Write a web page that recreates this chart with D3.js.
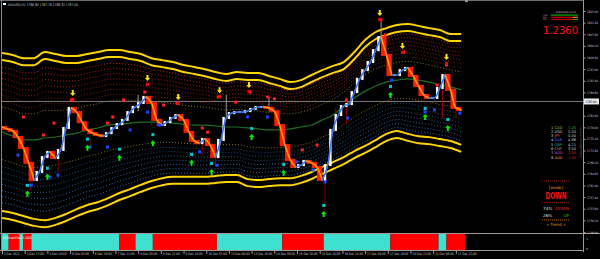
<!DOCTYPE html>
<html>
<head>
<meta charset="utf-8">
<script src="https://cdn.jsdelivr.net/npm/d3@7"></script>
<style>
  html, body { margin: 0; padding: 0; background: #000; }
  svg { display: block; }
  text { font-family: "DejaVu Sans", Tahoma, sans-serif; }
</style>
</head>
<body>
<svg id="chart" width="600" height="259"></svg>
<script>
// ---- data (XAUUSD H1) ----
const symbol = 'XAUUSD,H1';
const ohlcHeader = [1786.80, 1787.76, 1786.32, 1787.00];
const lastPrice = 1787.00;

// smoothed close, one value every 4 bars
const closes = [
  1779.1, 1778.5, 1777.9, 1776.0, 1772.6, 1768.0, 1762.7, 1765.2, 1769.8, 1771.4,
  1769.5, 1772.0, 1778.8, 1785.0, 1783.7, 1780.6, 1778.2, 1777.2, 1776.6, 1776.3,
  1777.2, 1778.8, 1780.0, 1781.3, 1783.7, 1785.3, 1786.5, 1788.4, 1786.5, 1781.3,
  1779.7, 1780.6, 1781.9, 1782.8, 1781.3, 1777.6, 1774.8, 1774.1, 1775.4, 1773.5,
  1769.8, 1775.1, 1781.9, 1783.4, 1783.7, 1783.7, 1784.0, 1784.7, 1785.3, 1785.3,
  1785.0, 1784.0, 1779.7, 1773.5, 1768.9, 1766.7, 1767.3, 1768.6, 1768.0, 1766.7,
  1762.7, 1767.3, 1778.2, 1782.8, 1785.6, 1786.2, 1789.9, 1794.0, 1796.7, 1799.2,
  1802.9, 1806.9, 1801.4, 1795.2, 1795.2, 1796.7, 1797.4, 1794.9, 1791.8, 1789.0,
  1788.1, 1788.1, 1791.2, 1795.2, 1790.6, 1785.0, 1784.4
];

// envelope lines, one value every 8 bars
const bandTop = [
  1802.0, 1801.4, 1800.4, 1800.4, 1802.3, 1801.7, 1801.1, 1801.1, 1801.7, 1802.3,
  1802.9, 1802.9, 1802.3, 1801.7, 1800.4, 1799.8, 1799.2, 1798.3, 1797.7, 1797.0,
  1796.1, 1795.5, 1796.1, 1795.8, 1795.8, 1794.9, 1794.0, 1793.0, 1793.6, 1795.2,
  1796.7, 1798.0, 1799.2, 1802.3, 1806.0, 1808.5, 1809.7, 1810.7, 1811.0, 1810.4,
  1809.7, 1809.1, 1807.9, 1807.9
];
const midLine = [
  1777.5, 1776.3, 1775.1, 1775.1, 1775.7, 1776.0, 1776.6, 1777.2, 1778.2, 1778.8,
  1779.7, 1780.0, 1780.3, 1780.6, 1780.6, 1780.6, 1780.3, 1780.0, 1779.7, 1779.7,
  1779.4, 1779.1, 1779.1, 1778.8, 1778.5, 1778.2, 1778.2, 1778.5, 1779.1, 1779.7,
  1781.3, 1782.8, 1785.6, 1788.1, 1790.2, 1791.8, 1793.0, 1793.6, 1794.0, 1793.6,
  1793.0, 1792.1, 1791.5, 1790.6
];
const bandBottom = [
  1750.9, 1750.3, 1749.4, 1748.5, 1748.1, 1748.8, 1750.0, 1751.5, 1752.8, 1753.7,
  1755.0, 1756.5, 1757.7, 1759.0, 1760.2, 1761.1, 1761.5, 1761.5, 1761.5, 1761.5,
  1761.8, 1762.1, 1762.1, 1760.8, 1760.5, 1760.8, 1761.1, 1761.1, 1761.8, 1763.0,
  1764.6, 1766.1, 1767.6, 1769.5, 1771.1, 1772.9, 1774.8, 1775.7, 1774.8, 1774.1,
  1773.8, 1773.2, 1772.6, 1771.4
];
const upperLevels = [0.82, 0.75, 0.68, 0.61, 0.54, 0.47, 0.40];
const lowerLevels = [0.82, 0.75, 0.68, 0.61, 0.54, 0.47, 0.40];
const middleLevel = 0.32;

// [bar, high, low]
const wicks = [
  [21, 1770.0, 1759.6], [42, 1771.0, 1765.1], [66, 1776.0, 1772.0], [102, 1789.0, 1784.0],
  [112, 1784.0, 1779.7], [150, 1775.0, 1770.4], [160, 1772.0, 1767.3], [168, 1789.0, 1782.0],
  [200, 1788.4, 1784.0], [211, 1770.0, 1765.8], [242, 1765.0, 1752.9], [250, 1785.0, 1779.7],
  [258, 1788.0, 1780.0], [284, 1811.6, 1805.0], [330, 1792.0, 1781.9], [340, 1788.0, 1781.9]
];
const grayWickBars = [102, 168, 200, 284];

// [bar, price]
const sellSignals = [[53, 1789.6], [109, 1794.3], [132, 1788.4], [163, 1790.5], [185, 1792.1],
  [283, 1814.4], [300, 1804.2], [333, 1800.8]];
const buySignals = [[19, 1758.4], [34, 1763.7], [64, 1772.7], [88, 1769.6], [113, 1774.1],
  [142, 1768.0], [157, 1765.2], [187, 1776.0], [211, 1764.9], [241, 1752.2], [291, 1789.0],
  [317, 1782.2], [334, 1778.8]];
const redDots = [[16, 1782.2], [31, 1776.6], [39, 1780.3], [52, 1787.5], [79, 1780.3], [83, 1782.2],
  [91, 1787.5], [107, 1789.9], [121, 1785.9], [131, 1786.5], [150, 1778.8], [154, 1777.5],
  [162, 1788.4], [175, 1786.8], [186, 1789.9], [199, 1788.4], [204, 1787.8], [225, 1772.0],
  [236, 1773.5], [258, 1787.5], [284, 1812.2], [287, 1807.6], [301, 1802.3], [326, 1792.1], [333, 1798.3]];
const blueDots = [[12, 1770.4], [22, 1761.1], [36, 1763.6], [42, 1764.2], [66, 1772.9], [79, 1772.9],
  [96, 1778.2], [109, 1783.7], [118, 1779.7], [148, 1771.4], [161, 1767.3], [184, 1782.2],
  [199, 1782.2], [221, 1768.3], [233, 1765.8], [242, 1762.1], [259, 1781.9], [292, 1793.6],
  [317, 1783.7], [324, 1784.4], [343, 1783.4]];

// sub window: state changes (bar index) and state (1 = up, 0 = down)
const filterBreaks = [0, 5, 13, 16, 22, 88, 100, 113, 161, 210, 241, 291, 327, 333, 347];
const filterStates = [1, 0, 1, 0, 1, 0, 1, 0, 1, 0, 1, 0, 1, 0];

const timeLabels = ['2 Dec 2021', '2 Dec 17:00', '3 Dec 10:00', '6 Dec 03:00', '6 Dec 19:00',
  '7 Dec 12:00', '8 Dec 05:00', '8 Dec 21:00', '9 Dec 14:00', '10 Dec 07:00', '13 Dec 00:00',
  '13 Dec 16:00', '14 Dec 09:00', '15 Dec 02:00', '15 Dec 18:00', '16 Dec 11:00', '17 Dec 04:00',
  '17 Dec 20:00', '20 Dec 13:00', '21 Dec 06:00', '21 Dec 22:00'];
const priceTicks = [1815.00, 1811.40, 1807.80, 1804.20, 1800.60, 1797.00, 1793.40, 1789.80,
  1786.20, 1782.60, 1779.00, 1775.40, 1771.80, 1768.20, 1764.60, 1761.00, 1757.40, 1753.80,
  1750.20, 1746.60];

const currencies = ['CAD', 'USD', 'JPY', 'EUR', 'GBP', 'CHF', 'NZD', 'AUD'];
const strengths = [7.25, 5.50, 5.00, 4.86, 4.71, 3.50, 2.00, 1.50];
const ratio = '1.2360';
const trendPct = [74, 26];

// ---- drawing ----
const W = 600, H = 259;
const FONT = '"DejaVu Sans", Tahoma, sans-serif';
const svg = d3.select('#chart');
svg.append('rect').attr('width', W).attr('height', H).attr('fill', '#000');

const x = d3.scaleLinear().domain([0, 347]).range([2, 465.2]);
const y = d3.scaleLinear().domain([1746.6, 1815.0]).range([232, 11]);

svg.append('clipPath').attr('id', 'main')
  .append('rect').attr('x', 2).attr('y', 2).attr('width', 581).attr('height', 230);
const g = svg.append('g').attr('clip-path', 'url(#main)');

// envelope
const line = d3.line().x(d => x(d[0])).y(d => d[1]).curve(d3.curveMonotoneX);
const bandPts = (fn) => bandTop.map((_, i) => [i * 8, fn(i)]);

upperLevels.forEach((f, j) => {
  const c = d3.interpolateRgb('#c81c1c', '#74200f')(j / (upperLevels.length - 1));
  g.append('path').attr('d', line(bandPts(i => y(midLine[i] + f * (bandTop[i] - midLine[i])))))
    .attr('fill', 'none').attr('stroke', c).attr('stroke-width', 1).attr('stroke-dasharray', '1 2');
});
lowerLevels.forEach((f, j) => {
  const c = d3.interpolateRgb('#2c70b8', '#1d4c7a')(j / (lowerLevels.length - 1));
  g.append('path').attr('d', line(bandPts(i => y(midLine[i] - f * (midLine[i] - bandBottom[i])))))
    .attr('fill', 'none').attr('stroke', c).attr('stroke-width', 1).attr('stroke-dasharray', '1 2');
});
[1, -1].forEach(s => {
  g.append('path')
    .attr('d', line(bandPts(i => y(midLine[i] + s * middleLevel * (s > 0 ? bandTop[i] - midLine[i] : midLine[i] - bandBottom[i])))))
    .attr('fill', 'none').attr('stroke', '#8c7a1e').attr('stroke-width', 1).attr('stroke-dasharray', '1 2');
});
g.append('path').attr('d', line(bandPts(i => y(midLine[i]))))
  .attr('fill', 'none').attr('stroke', '#1f6e1f').attr('stroke-width', 1.2);

[[bandTop, 0], [bandTop, 7], [bandBottom, 0], [bandBottom, -7]].forEach(([arr, off]) => {
  g.append('path').attr('d', line(bandPts(i => y(arr[i]) + off)))
    .attr('fill', 'none').attr('stroke', '#ffd400').attr('stroke-width', 2);
});

// current price line
g.append('line').attr('x1', 2).attr('x2', 583).attr('y1', y(lastPrice)).attr('y2', y(lastPrice))
  .attr('stroke', '#7a7a7a').attr('stroke-width', 1);

// wicks
g.selectAll('.wick').data(wicks).join('line')
  .attr('x1', d => x(d[0])).attr('x2', d => x(d[0]))
  .attr('y1', d => y(d[1])).attr('y2', d => y(d[2]))
  .attr('stroke', d => grayWickBars.includes(d[0]) ? '#9a9a9a' : '#8b0000')
  .attr('stroke-width', 1);

// bodies
const bodies = closes.slice(1).map((c, k) => ({ bar: (k + 1) * 4, o: closes[k], c, up: c >= closes[k] }));
g.selectAll('.body').data(bodies).join('rect')
  .attr('x', d => x(d.bar - 2) - (d.up ? 1.2 : 2.7))
  .attr('width', d => d.up ? 2.4 : 5.4)
  .attr('y', d => y(Math.max(d.o, d.c)) - 1)
  .attr('height', d => Math.abs(y(d.o) - y(d.c)) + 2)
  .attr('fill', d => d.up ? '#ffffff' : '#ff1a00');

// smoothed line in runs: orange falling / blue rising
const runs = [];
bodies.forEach(d => {
  const last = runs[runs.length - 1];
  if (last && last.up === d.up) last.pts.push([d.bar, d.c]);
  else runs.push({ up: d.up, pts: [[d.bar - 4, d.o], [d.bar, d.c]] });
});
const smooth = d3.line().x(d => x(d[0])).y(d => y(d[1])).curve(d3.curveMonotoneX);
g.selectAll('.run').data(runs).join('path')
  .attr('d', d => smooth(d.pts))
  .attr('fill', 'none')
  .attr('stroke', d => d.up ? '#3c78f0' : '#ff9a10')
  .attr('stroke-width', 1.6).attr('stroke-linecap', 'round');

// dots
g.selectAll('.rdot').data(redDots).join('rect')
  .attr('x', d => x(d[0]) - 1.5).attr('y', d => y(d[1]) - 1.5).attr('width', 3).attr('height', 3)
  .attr('fill', '#ff2020');
g.selectAll('.bdot').data(blueDots).join('rect')
  .attr('x', d => x(d[0]) - 1.5).attr('y', d => y(d[1]) - 1.5).attr('width', 3).attr('height', 3)
  .attr('fill', '#1e46ff');

// signals
const downArrow = 'M-1,-3H1V0H2.6L0,3L-2.6,0H-1Z';
const upArrow = 'M-1,3H1V0H2.6L0,-3L-2.6,0H-1Z';
sellSignals.forEach(d => {
  g.append('path').attr('d', downArrow).attr('fill', '#ffe600')
    .attr('transform', `translate(${x(d[0])},${y(d[1])})`);
  g.append('rect').attr('x', x(d[0]) - 1.5).attr('y', y(d[1]) + 5).attr('width', 3).attr('height', 3)
    .attr('fill', '#ff0000');
});
buySignals.forEach(d => {
  g.append('path').attr('d', upArrow).attr('fill', '#00f000')
    .attr('transform', `translate(${x(d[0])},${y(d[1])})`);
  g.append('rect').attr('x', x(d[0]) - 1.5).attr('y', y(d[1]) - 10).attr('width', 3).attr('height', 3)
    .attr('fill', '#00c8d0');
});

// ---- sub window ----
const sub = svg.append('g');
filterStates.forEach((s, i) => {
  sub.append('rect')
    .attr('x', x(filterBreaks[i])).attr('width', x(filterBreaks[i + 1]) - x(filterBreaks[i]))
    .attr('y', 234).attr('height', 16)
    .attr('fill', s ? '#40e0d0' : '#ff0000');
});
sub.append('text').attr('x', 3).attr('y', 239).attr('font-size', 3.4).attr('fill', '#ffffff')
  .attr('textLength', 29).attr('lengthAdjust', 'spacingAndGlyphs')
  .text('HGSmartFilter 1.0000');

// frames
svg.append('line').attr('x1', 0).attr('x2', 600).attr('y1', 233.5).attr('y2', 233.5).attr('stroke', '#9a9a9a');
svg.append('line').attr('x1', 0).attr('x2', 584).attr('y1', 250.5).attr('y2', 250.5).attr('stroke', '#9a9a9a');
svg.append('line').attr('x1', 0).attr('x2', 584).attr('y1', 0.5).attr('y2', 0.5).attr('stroke', '#6a6a6a');
svg.append('line').attr('x1', 1.5).attr('x2', 1.5).attr('y1', 0).attr('y2', 251).attr('stroke', '#8a8a8a');
svg.append('rect').attr('x', 465).attr('y', 0).attr('width', 3).attr('height', 2).attr('fill', '#9a9a9a');

// price axis
const yAxis = svg.append('g').attr('transform', 'translate(583.5,0)')
  .call(d3.axisRight(y)
    .tickValues(priceTicks.filter(p => Math.abs(y(p) - y(lastPrice)) > 5))
    .tickFormat(d3.format('.2f')).tickSize(2).tickPadding(1.5));
yAxis.select('.domain').attr('stroke', '#9a9a9a').attr('d', 'M0,0V252');
yAxis.selectAll('line').attr('stroke', '#9a9a9a');
yAxis.selectAll('text').attr('font-size', 3.1).attr('fill', '#c8c8c8')
  .attr('textLength', 11).attr('lengthAdjust', 'spacingAndGlyphs').attr('font-family', FONT);
svg.append('text').attr('x', 586).attr('y', 240).attr('font-size', 3.2).attr('fill', '#c8c8c8').text('1');
svg.append('text').attr('x', 586).attr('y', 250).attr('font-size', 3.2).attr('fill', '#c8c8c8').text('0');

// current price label
svg.append('rect').attr('x', 584).attr('y', y(lastPrice) - 3).attr('width', 15).attr('height', 6)
  .attr('fill', '#e8e8e8');
svg.append('text').attr('x', 585.5).attr('y', y(lastPrice) + 1.3).attr('font-size', 3.1).attr('fill', '#000')
  .attr('textLength', 11).attr('lengthAdjust', 'spacingAndGlyphs')
  .text(d3.format('.2f')(lastPrice));

// time axis
const xAxis = svg.append('g').attr('transform', 'translate(0,251)')
  .call(d3.axisBottom(x).tickValues(timeLabels.map((_, i) => i * 17))
    .tickFormat((d, i) => timeLabels[i]).tickSize(3).tickPadding(1));
xAxis.select('.domain').remove();
xAxis.selectAll('line').attr('stroke', '#9a9a9a');
xAxis.selectAll('text').attr('font-size', 3.4).attr('fill', '#c8c8c8').attr('text-anchor', 'start')
  .attr('dx', 1.5).attr('dy', '-0.1em').attr('font-family', FONT)
  .attr('textLength', (d, i) => timeLabels[i].length * 1.55).attr('lengthAdjust', 'spacingAndGlyphs');

// header
svg.append('rect').attr('x', 3).attr('y', 3).attr('width', 3).attr('height', 2).attr('fill', '#ffffff');
svg.append('text').attr('x', 8).attr('y', 6).attr('font-size', 3.6).attr('fill', '#c8c8c8')
  .attr('textLength', 70).attr('lengthAdjust', 'spacingAndGlyphs')
  .text(symbol + '  ' + ohlcHeader.map(d3.format('.2f')).join(' '));

// top-right panel
const tr = svg.append('g');
tr.append('text').attr('x', 556).attr('y', 13).attr('font-size', 2.4).attr('fill', '#d0d0d0')
  .attr('textLength', 20).attr('lengthAdjust', 'spacingAndGlyphs')
  .text('M1 M5 M15 M30 H1 H4 D1');
[['#00b000', '#00b000'], ['#c80000', '#e08a00'], ['#c80000', '#00b000']].forEach((c, i) => {
  tr.append('text').attr('x', 543).attr('y', 15.8 + i * 2.2).attr('font-size', 2.2).attr('fill', '#bbbbbb')
    .text(['TRD', 'SIG', 'MA'][i]);
  tr.append('rect').attr('x', 551).attr('y', 14.5 + i * 2.2).attr('width', 22).attr('height', 1.2).attr('fill', c[0]);
  tr.append('rect').attr('x', 573).attr('y', 14.5 + i * 2.2).attr('width', 5).attr('height', 1.2).attr('fill', c[1]);
});
tr.append('text').attr('x', 578).attr('y', 34).attr('text-anchor', 'end').attr('font-size', 10)
  .attr('font-family', '"Liberation Sans", Arial, sans-serif').attr('fill', '#ff1010').text(ratio);

// currency strength list
const curColors = ['#9acd32', '#d0d0d0', '#ff5a5a', '#4a70ff', '#20b2aa', '#c8a0a0', '#c050e0', '#e0b020'];
currencies.forEach((c, i) => {
  const yy = 128.5 + i * 4.3;
  svg.append('text').attr('x', 551).attr('y', yy).attr('font-size', 3.6).attr('fill', '#d0d0d0').text(i + 1);
  svg.append('text').attr('x', 554.5).attr('y', yy).attr('font-size', 3.6).attr('fill', curColors[i]).text(c);
  svg.append('text').attr('x', 576).attr('y', yy).attr('text-anchor', 'end').attr('font-size', 3.6)
    .attr('fill', strengths[i] >= 6 ? '#20d020' : strengths[i] <= 2 ? '#e02020' : '#c8c8c8')
    .text(d3.format('.2f')(strengths[i]));
});
svg.append('text').attr('transform', 'translate(579.5,126) rotate(90)').attr('font-size', 2.6)
  .attr('fill', '#707070').text('Currency Strength Meter');

// trend box
const tb = svg.append('g');
[[181, '#8b1010'], [202.5, '#8b1010'], [220, '#b8620a']].forEach(([yy, c]) => {
  tb.append('line').attr('x1', 542).attr('x2', 570).attr('y1', yy).attr('y2', yy)
    .attr('stroke', c).attr('stroke-width', 1).attr('stroke-dasharray', '1 1');
});
tb.append('text').attr('x', 556).attr('y', 189).attr('text-anchor', 'middle').attr('font-size', 4.2)
  .attr('fill', '#e08a10').text('[weak]');
tb.append('text').attr('x', 556).attr('y', 198.5).attr('text-anchor', 'middle').attr('font-size', 8)
  .attr('font-weight', 'bold').attr('textLength', 21).attr('lengthAdjust', 'spacingAndGlyphs')
  .attr('fill', '#ff1010').text('DOWN');
tb.append('text').attr('x', 543).attr('y', 210).attr('font-size', 4.2).attr('fill', '#e0e0e0').text(trendPct[0] + '%');
tb.append('text').attr('x', 569).attr('y', 210).attr('text-anchor', 'end').attr('font-size', 4.2).attr('fill', '#e02020').text('DOWN');
tb.append('text').attr('x', 543).attr('y', 216.5).attr('font-size', 4.2).attr('fill', '#e0e0e0').text(trendPct[1] + '%');
tb.append('text').attr('x', 569).attr('y', 216.5).attr('text-anchor', 'end').attr('font-size', 4.2).attr('fill', '#20c020').text('UP');
tb.append('text').attr('x', 556).attr('y', 226).attr('text-anchor', 'middle').attr('font-size', 4.2)
  .attr('fill', '#e08a10').text('«  Trend  »');
</script>
</body>
</html>
